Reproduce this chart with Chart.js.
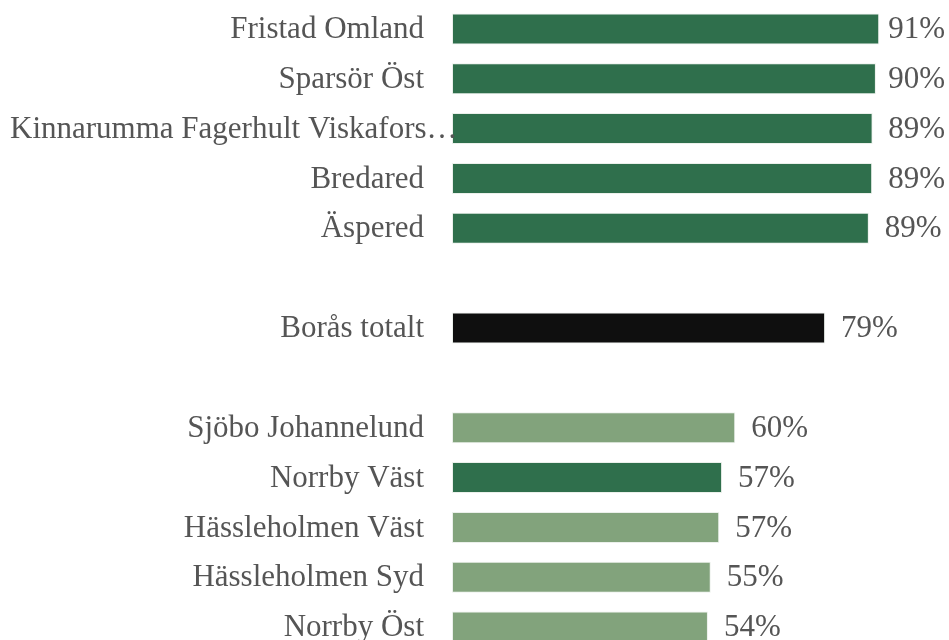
<!DOCTYPE html>
<html>
<head>
<meta charset="utf-8">
<script src="https://cdn.jsdelivr.net/npm/chart.js@4/dist/chart.umd.min.js"></script>
<style>
  html, body { margin: 0; padding: 0; background: #fff; overflow: hidden; }
  #wrap { position: relative; width: 949px; height: 660px; }
</style>
</head>
<body>
<div id="wrap"><canvas id="myChart"></canvas></div>
<script>
// Områden (tomma rader skiljer grupperna åt)
const categories = [
    'Fristad Omland', 'Sparsör Öst', 'Kinnarumma Fagerhult Viskafors…', 'Bredared', 'Äspered',
    '', 'Borås totalt', '',
    'Sjöbo Johannelund', 'Norrby Väst', 'Hässleholmen Väst', 'Hässleholmen Syd', 'Norrby Öst'
];
const values = [90.8, 90.1, 89.4, 89.3, 88.6, null, 79.3, null, 60.2, 57.4, 56.8, 55.0, 54.4];
const groups = ['top', 'top', 'top', 'top', 'top', '', 'total', '', 'low', 'top', 'low', 'low', 'low'];

const colorFor = { top: '#2f6f4c', total: '#0f0f0f', low: '#82a37c', '': 'rgba(0,0,0,0)' };
const textColor = '#555555';
const font = '31px "Liberation Serif", "DejaVu Serif", serif';

// Etiketter ritas för hand: namn till vänster, procent efter stapeln
const labelPlugin = {
    id: 'labels',
    afterDatasetsDraw(chart) {
        const ctx = chart.ctx;
        const area = chart.chartArea;
        const meta = chart.getDatasetMeta(0);
        ctx.save();
        ctx.font = font;
        ctx.fillStyle = textColor;
        ctx.textBaseline = 'middle';
        ctx.textAlign = 'left';
        meta.data.forEach((bar, i) => {
            const y = bar.y + 1;
            if (categories[i]) {
                const w = ctx.measureText(categories[i]).width;
                let x = area.left - 28 - w;
                if (x < 10) x = 10;
                ctx.fillText(categories[i], x, y);
            }
            if (values[i] !== null) {
                const txt = Math.round(values[i]) + '%';
                const w = ctx.measureText(txt).width;
                const x = Math.min(bar.x + 16, chart.width - 4 - w);
                ctx.fillText(txt, x, y);
            }
        });
        ctx.restore();
    }
};

document.addEventListener('DOMContentLoaded', () => {
    const ctx = document.getElementById('myChart').getContext('2d');

    new Chart(ctx, {
        type: 'bar',
        data: {
            labels: categories,
            datasets: [{
                data: values,
                backgroundColor: groups.map(g => colorFor[g]),
                borderColor: 'rgba(230,236,230,0.8)',
                borderWidth: 1,
                borderSkipped: false,
                barPercentage: 0.622,
                categoryPercentage: 1
            }]
        },
        options: {
            indexAxis: 'y',
            responsive: true,
            maintainAspectRatio: false,
            animation: false,
            layout: { padding: { left: 452, right: 26.5, top: 4, bottom: 8 } },
            plugins: {
                legend: { display: false },
                tooltip: { enabled: false }
            },
            scales: {
                x: { display: false, min: 0, max: 100 },
                y: { display: false }
            }
        },
        plugins: [labelPlugin]
    });
});
</script>
</body>
</html>
